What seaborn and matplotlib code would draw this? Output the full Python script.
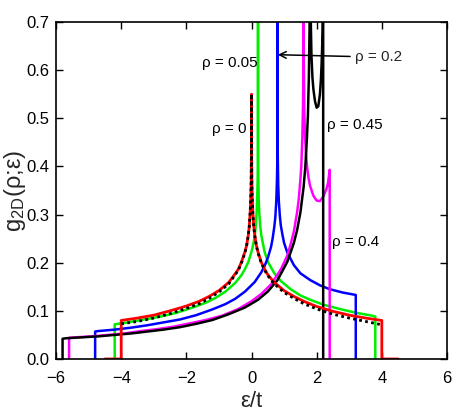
import numpy as np
import pandas as pd
import matplotlib
matplotlib.use('Agg')
import matplotlib.pyplot as plt
import seaborn as sns

# ---------------- data ----------------
# rho = 0 (red, solid)
eps_r0 = [-4.5, -4.0, -4.0, -3.5, -3.0, -2.5, -2.0, -1.6, -1.3, -1.0, -0.7, -0.5, -0.4, -0.3,
          -0.2, -0.15, -0.1, -0.07, -0.04, -0.02, -0.01, -0.004, -0.001, 0.0,
          0.001, 0.004, 0.01, 0.02, 0.04, 0.07, 0.1, 0.15, 0.2, 0.3, 0.4, 0.5, 0.7,
          1.0, 1.3, 1.6, 2.0, 2.5, 3.0, 3.5, 4.0, 4.0, 4.5]
g_r0 = [0.0, 0.0, 0.080, 0.085, 0.091, 0.100, 0.110, 0.120, 0.130, 0.142, 0.159, 0.177, 0.187, 0.203,
        0.223, 0.236, 0.257, 0.275, 0.306, 0.341, 0.369, 0.420, 0.490, 0.550,
        0.490, 0.420, 0.369, 0.341, 0.304, 0.275, 0.257, 0.236, 0.222, 0.201, 0.187, 0.175, 0.159,
        0.142, 0.130, 0.120, 0.109, 0.099, 0.091, 0.085, 0.080, 0.0, 0.0]

# rho = 0 (black, dotted)
eps_d0 = [-4.0, -3.5, -3.0, -2.5, -2.0, -1.6, -1.3, -1.0, -0.7, -0.5, -0.4, -0.3,
          -0.2, -0.15, -0.1, -0.07, -0.04, -0.02, -0.01, -0.004, -0.001, 0.0,
          0.001, 0.004, 0.01, 0.02, 0.04, 0.07, 0.1, 0.15, 0.2, 0.3, 0.4, 0.5, 0.7,
          1.0, 1.3, 1.6, 2.0, 2.5, 3.0, 3.5, 4.0]
g_d0 = [0.073, 0.078, 0.085, 0.094, 0.105, 0.115, 0.126, 0.139, 0.156, 0.175, 0.185, 0.201,
        0.221, 0.235, 0.256, 0.274, 0.305, 0.340, 0.368, 0.420, 0.490, 0.550,
        0.490, 0.420, 0.368, 0.340, 0.303, 0.274, 0.256, 0.235, 0.220, 0.199, 0.185, 0.173, 0.156,
        0.138, 0.126, 0.115, 0.104, 0.093, 0.085, 0.078, 0.071]

# rho = 0.05 (green)
eps_g = [-4.2, -4.2, -3.8, -3.3, -2.8, -2.3, -1.8, -1.4, -1.1, -0.8, -0.5, -0.3, -0.2, -0.1,
         0.0, 0.05, 0.10, 0.13, 0.16, 0.18, 0.19, 0.196, 0.199, 0.2, 0.201, 0.204, 0.21, 0.22,
         0.24, 0.27, 0.30, 0.35, 0.40, 0.50, 0.60, 0.70, 0.90, 1.2, 1.5, 1.8, 2.2, 2.7, 3.2,
         3.7, 3.8, 3.8]
g_g = [0.0, 0.072, 0.076, 0.082, 0.088, 0.096, 0.107, 0.117, 0.127, 0.140, 0.158, 0.175, 0.187, 0.201,
       0.223, 0.237, 0.256, 0.276, 0.307, 0.347, 0.376, 0.440, 0.520, 0.800, 0.510, 0.430, 0.376, 0.335,
       0.302, 0.275, 0.257, 0.240, 0.223, 0.202, 0.190, 0.178, 0.162, 0.145, 0.132, 0.123, 0.113, 0.104, 0.096,
       0.090, 0.088, 0.0]

# rho = 0.2 (blue)
eps_b = [-4.8, -4.8, -4.7, -4.2, -3.7, -3.2, -2.7, -2.2, -1.7, -1.2, -0.8, -0.5, -0.2, 0.1,
         0.3, 0.4, 0.5, 0.6, 0.65, 0.7, 0.73, 0.76, 0.78, 0.79, 0.796, 0.799, 0.8, 0.801, 0.804,
         0.81, 0.82, 0.84, 0.87, 0.90, 0.95, 1.0, 1.1, 1.2, 1.3, 1.5, 1.8, 2.1, 2.4, 2.8, 3.2, 3.2]
g_b = [0.0, 0.057, 0.058, 0.061, 0.065, 0.070, 0.076, 0.082, 0.091, 0.103, 0.114, 0.125, 0.140, 0.160,
       0.180, 0.193, 0.210, 0.233, 0.251, 0.275, 0.294, 0.327, 0.369, 0.403, 0.460, 0.530, 0.800, 0.520, 0.433,
       0.403, 0.361, 0.326, 0.297, 0.277, 0.258, 0.241, 0.221, 0.208, 0.195, 0.178, 0.164, 0.153, 0.145, 0.138,
       0.133, 0.0]

# rho = 0.4 (magenta)
eps_m = [-5.6, -5.6, -5.4, -4.9, -4.4, -3.9, -3.4, -2.9, -2.4, -1.9, -1.4, -0.9, -0.4, 0.0,
         0.3, 0.6, 0.9, 1.1, 1.2, 1.3, 1.4, 1.45, 1.5, 1.53, 1.56, 1.58, 1.59, 1.596, 1.599, 1.6,
         1.601, 1.604, 1.61, 1.62, 1.64, 1.67, 1.70, 1.75, 1.80, 1.90, 2.0, 2.1, 2.2, 2.3, 2.35,
         2.394, 2.4, 2.4]
g_m = [0.0, 0.044, 0.045, 0.047, 0.050, 0.053, 0.058, 0.062, 0.067, 0.074, 0.081, 0.090, 0.104, 0.120,
       0.135, 0.155, 0.186, 0.215, 0.238, 0.265, 0.305, 0.332, 0.372, 0.403, 0.460, 0.526, 0.578, 0.650, 0.750, 0.900,
       0.750, 0.626, 0.583, 0.519, 0.468, 0.429, 0.402, 0.376, 0.359, 0.339, 0.329, 0.328, 0.337, 0.353, 0.366,
       0.390, 0.393, 0.0]

# rho = 0.45 (black, solid)
eps_k = [-5.8, -5.8, -5.7, -5.2, -4.7, -4.2, -3.7, -3.2, -2.7, -2.2, -1.7, -1.2, -0.7, -0.2,
         0.2, 0.5, 0.8, 1.1, 1.3, 1.4, 1.5, 1.6, 1.65, 1.7, 1.73, 1.76, 1.78, 1.79, 1.796, 1.8,
         1.804, 1.81, 1.82, 1.84, 1.87, 1.9, 1.95, 2.0, 2.05, 2.1, 2.13, 2.15, 2.17, 2.18, 2.19,
         2.2, 2.2]
g_k = [0.0, 0.042, 0.043, 0.045, 0.047, 0.050, 0.053, 0.057, 0.061, 0.066, 0.073, 0.081, 0.093, 0.107,
       0.123, 0.140, 0.164, 0.202, 0.241, 0.268, 0.304, 0.358, 0.398, 0.458, 0.504, 0.585, 0.681, 0.754, 0.850, 1.000,
       0.870, 0.780, 0.700, 0.630, 0.585, 0.560, 0.535, 0.522, 0.525, 0.550, 0.580, 0.610, 0.650, 0.680, 0.730,
       0.790, 0.0]

x_ticks = [-6, -4, -2, 0, 2, 4, 6]
y_ticks = [0.0, 0.1, 0.2, 0.3, 0.4, 0.5, 0.6, 0.7]

# ---------------- style ----------------
sns.set_style('ticks')
FONT = ['Liberation Sans Narrow', 'Liberation Sans', 'DejaVu Sans']
plt.rcParams['font.family'] = FONT
plt.rcParams['mathtext.default'] = 'regular'
plt.rcParams['xtick.direction'] = 'in'
plt.rcParams['ytick.direction'] = 'in'

fig = plt.figure(figsize=(4.71, 4.15), dpi=100)
ax = fig.add_axes([0.119, 0.135, 0.830, 0.812])

curves = [
    (eps_g, g_g, '#00ee00', '-', 1.8),
    (eps_b, g_b, '#0000ff', '-', 1.8),
    (eps_m, g_m, '#ff00ff', '-', 1.8),
    (eps_k, g_k, '#000000', '-', 1.8),
    (eps_r0, g_r0, '#ff0000', '-', 2.0),
]
for xs, ys, col, ls, lw in curves:
    sns.lineplot(x=xs, y=ys, ax=ax, color=col, linestyle=ls, linewidth=lw,
                 sort=False, estimator=None)
sns.lineplot(x=eps_d0, y=g_d0, ax=ax, color='black', linewidth=2.0,
             sort=False, estimator=None, dashes=False)
ax.lines[-1].set_linestyle((0, (1, 1.2)))

ax.set_xlim(-6, 6)
ax.set_ylim(0, 0.7)
ax.set_xticks(x_ticks)
ax.set_yticks(y_ticks)
ax.set_yticklabels(['%.1f' % v for v in y_ticks])
ax.tick_params(which='both', top=True, right=True, length=5, width=1.0,
               labelsize=12, color='black', labelcolor='black')
ax.tick_params(axis='x', pad=9)
ax.tick_params(axis='y', pad=5)
for sp in ax.spines.values():
    sp.set_linewidth(1.2)
    sp.set_color('black')
    sp.set_visible(True)

ax.set_xlabel('ε/t', fontsize=16, labelpad=3)
ax.set_ylabel('g$_{2D}$(ρ;ε)', fontsize=17)
ax.yaxis.set_label_coords(-0.072, 0.5)

tkw = dict(fontsize=11, va='center', ha='left', color='black')
ax.text(-1.53, 0.615, 'ρ = 0.05', **tkw)
ax.text(-1.22, 0.478, 'ρ = 0', **tkw)
ax.text(2.31, 0.486, 'ρ = 0.45', **tkw)
ax.text(2.46, 0.244, 'ρ = 0.4', **tkw)
ax.annotate('ρ = 0.2', xy=(0.81, 0.632), xytext=(3.17, 0.627),
            fontsize=11, va='center', ha='left',
            arrowprops=dict(arrowstyle='->', color='black', lw=1.1,
                            shrinkA=1, shrinkB=0, mutation_scale=12))

fig.savefig('out.png', dpi=100)
